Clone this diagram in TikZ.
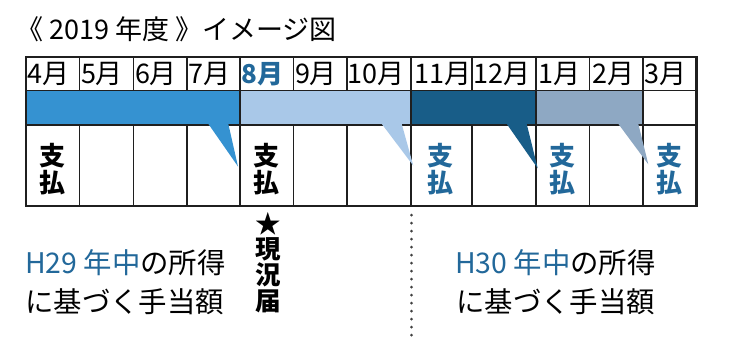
\documentclass[tikz,border=0pt]{standalone}
\usepackage{fontspec}
\newfontfamily\jp{Noto Sans CJK JP}
\definecolor{barA}{HTML}{3592D1}
\definecolor{barB}{HTML}{A9C8E8}
\definecolor{barC}{HTML}{185D88}
\definecolor{barD}{HTML}{8EA8C3}
\definecolor{txtblue}{HTML}{22689A}
\tikzset{
  gridline/.style={line width=1.6pt, draw=black!88},
  outerline/.style={line width=2.1pt, draw=black!88},
  month/.style={anchor=west, inner sep=0pt, font={\jp\fontsize{27}{27}\selectfont}},
  paylabel/.style={align=center, inner sep=0pt, font={\jp\bfseries\fontsize{26}{27.5}\selectfont}},
  bodytext/.style={anchor=west, inner sep=0pt, font={\jp\fontsize{28.4}{28.4}\selectfont}},
  dotmark/.style={fill=black!75},
}
\begin{document}
\begin{tikzpicture}[x=1pt,y=-1pt]
\useasboundingbox (0,0) rectangle (731,338);
% column boundaries
\def\xa{26}\def\xb{79.3}\def\xc{133.3}\def\xd{186.7}\def\xe{240}\def\xf{293.3}\def\xg{346.7}
\def\xh{411}\def\xi{471.7}\def\xj{535.7}\def\xk{589.3}\def\xl{642.7}\def\xm{696.5}
\def\ya{57}\def\yb{90.5}\def\yc{125}\def\yd{206}
% title
\node[anchor=west, inner sep=0pt, font={\jp\fontsize{27}{27}\selectfont}] (title) at (16,29) {《 2019 年度 》イメージ図};
% bars
\fill[barA] (\xa,\yb) rectangle (\xe,\yc);
\fill[barB] (\xe,\yb) rectangle (\xh,\yc);
\fill[barC] (\xh,\yb) rectangle (\xj,\yc);
\fill[barD] (\xj,\yb) rectangle (\xl,\yc);
% grid
\draw[gridline] (\xa,\yb) -- (\xm,\yb);
\draw[gridline] (\xa,\yc) -- (\xm,\yc);
\foreach \x in {\xb,\xc,\xd,\xe,\xf,\xg,\xh,\xi,\xj,\xk,\xl}{
  \draw[gridline] (\x,\ya) -- (\x,\yb);
  \draw[gridline] (\x,\yc) -- (\x,\yd);
}
\foreach \x in {\xe,\xh,\xj,\xl}{
  \draw[gridline] (\x,\yb) -- (\x,\yc);
}
\draw[outerline] (\xa,\ya) rectangle (\xm,\yd);
% callout tails
\fill[barA] (208.3,123.8) -- (228.3,123.8) -- (238,166.5) -- cycle;
\fill[barB] (381.7,123.8) -- (401.7,123.8) -- (413.3,165.7) -- cycle;
\fill[barC] (506.7,123.8) -- (526.7,123.8) -- (537.7,168.3) -- cycle;
\fill[barD] (618.3,123.8) -- (638.3,123.8) -- (648.3,164.3) -- cycle;
% months
\node[month] (m4) at (\xa+1.5,74) {4月};
\node[month] (m5) at (\xb+1.5,74) {5月};
\node[month] (m6) at (\xc+1.5,74) {6月};
\node[month] (m7) at (\xd+1.5,74) {7月};
\node[month, text=txtblue, font={\jp\bfseries\fontsize{26}{26}\selectfont}] (m8) at (\xe+1.5,74) {8月};
\node[month] (m9) at (\xf+1.5,74) {9月};
\node[month] (m10) at (\xg+1,74) {10月};
\node[month] (m11) at (\xh+3.5,74) {11月};
\node[month] (m12) at (\xi+1.5,74) {12月};
\node[month] (m1) at (\xj+3,74) {1月};
\node[month] (m2) at (\xk+3,74) {2月};
\node[month] (m3) at (\xl+2,74) {3月};
% payments
\node[paylabel] (p1) at (52.7,169) {支\\払};
\node[paylabel] (p2) at (266.7,169) {支\\払};
\node[paylabel, text=txtblue] (p3) at (440,169) {支\\払};
\node[paylabel, text=txtblue] (p4) at (562.5,169) {支\\払};
\node[paylabel, text=txtblue] (p5) at (669.6,169) {支\\払};
% genkyo todoke
\node[paylabel, font={\jp\bfseries\fontsize{25.5}{25.8}\selectfont}] (gk) at (268,262.5) {★\\現\\況\\届};
% dotted divider
\foreach \i in {0,...,15}{
  \fill[dotmark] (411.5,{215+8*\i}) circle (1.5pt);
}
% lower texts
\node[bodytext] (l1) at (25,263) {\textcolor{txtblue}{H29 年中}の所得};
\node[bodytext] (l2) at (25,302) {に基づく手当額};
\node[bodytext] (r1) at (455,263) {\textcolor{txtblue}{H30 年中}の所得};
\node[bodytext] (r2) at (456,302) {に基づく手当額};
\end{tikzpicture}
\end{document}
